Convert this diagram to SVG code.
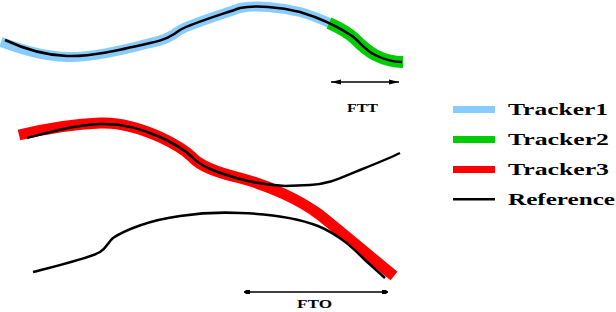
<svg xmlns="http://www.w3.org/2000/svg" width="616" height="312" viewBox="0 0 616 312">
<style>
.band{fill:none;stroke-linejoin:round}
.ref{fill:none;stroke:#000;stroke-width:2.5;stroke-linejoin:round}
.t1{stroke:#88CCFF}
.t2{stroke:#00CC00}
.t3{stroke:#FF0000}
.lbl{font-family:"Liberation Serif",serif;font-weight:bold;fill:#000}
.dim{stroke:#000;stroke-width:1.3;fill:none}
</style>
<defs>
<marker id="ah" viewBox="0 0 10 6" refX="10" refY="3" markerWidth="10" markerHeight="6" markerUnits="userSpaceOnUse" orient="auto-start-reverse">
<path d="M10,3 L0,0.5 L0,5.5 Z" fill="#000"/>
</marker>
<marker id="sq" viewBox="0 0 6 4" refX="6" refY="2" markerWidth="6" markerHeight="4" markerUnits="userSpaceOnUse" orient="auto-start-reverse">
<path d="M6,2 L4,0 L0,0 L0,4 L4,4 Z" fill="#000"/>
</marker>
</defs>
<g id="tracker1-top">
<path class="band t1" stroke-width="10" d="M1,42 C18,48 40,56 67,57 C90,58 120,51 150,43 C165,40 172,36 180,30 C190,24 220,15 240,8 C255,5 280,7 300,12 C315,16 325,21 336,26"/>
</g>
<g id="tracker2-top">
<path class="band t2" stroke-width="12" d="M329,23 C340,28 350,34 355,39 C362,46 366,50 375,55 C385,60 395,62 403,62"/>
</g>
<g id="reference-top">
<path class="ref" d="M5,40 C20,47 40,55 67,56 C90,57 120,50 150,43 C165,40 172,36 180,30 C190,24 220,15 240,8 C255,5 280,7 300,12 C320,18 340,28 352,36 C360,42 365,50 375,55 C385,60 395,62 402,62"/>
</g>
<g id="tracker3">
<path class="band t3" stroke-width="11" d="M19,135 C40,130 70,124 100,123 C120,122 140,128 160,137 C175,144 185,150 192,157 C200,166 215,172 240,178 C270,186 300,200 320,215 C345,235 372,258 394,276"/>
</g>
<g id="reference-1">
<path class="ref" d="M27,138 C50,132 75,125 100,124 C120,123 140,128 160,137 C175,144 185,150 192,157 C200,166 215,172 240,179 C255,183 265,185 285,186 L310,185 C330,184 340,178 360,170 C375,164 390,158 400,153"/>
</g>
<g id="reference-2">
<path class="ref" d="M33,272 C60,265 90,258 100,252 C107,248 108,242 113,238 C125,230 150,220 180,216 C200,213 220,212 240,213 C270,214 300,219 318,226 C340,235 355,250 365,260 L385,278"/>
</g>
<g id="connectors">
<line class="dim" x1="331" y1="82" x2="399" y2="82" marker-start="url(#ah)" marker-end="url(#ah)"/>
<line class="dim" x1="244" y1="292" x2="388" y2="292" marker-start="url(#sq)" marker-end="url(#sq)"/>
</g>
<g id="label-ftt"><text class="lbl" x="347" y="112" font-size="13" textLength="31" lengthAdjust="spacingAndGlyphs">FTT</text></g>
<g id="label-fto"><text class="lbl" x="297" y="308" font-size="12" textLength="35" lengthAdjust="spacingAndGlyphs">FTO</text></g>
<g id="legend">
<rect x="453" y="106" width="42" height="7" fill="#88CCFF"/>
<rect x="453" y="136" width="42" height="7" fill="#00CC00"/>
<rect x="453" y="166" width="42" height="7" fill="#FF0000"/>
<rect x="453" y="198" width="42" height="2.5" fill="#000"/>
<text class="lbl" x="508" y="115" font-size="16" textLength="100" lengthAdjust="spacingAndGlyphs">Tracker1</text>
<text class="lbl" x="508" y="145" font-size="16" textLength="101" lengthAdjust="spacingAndGlyphs">Tracker2</text>
<text class="lbl" x="508" y="175" font-size="16" textLength="101" lengthAdjust="spacingAndGlyphs">Tracker3</text>
<text class="lbl" x="508" y="205" font-size="16" textLength="107" lengthAdjust="spacingAndGlyphs">Reference</text>
</g>
</svg>
